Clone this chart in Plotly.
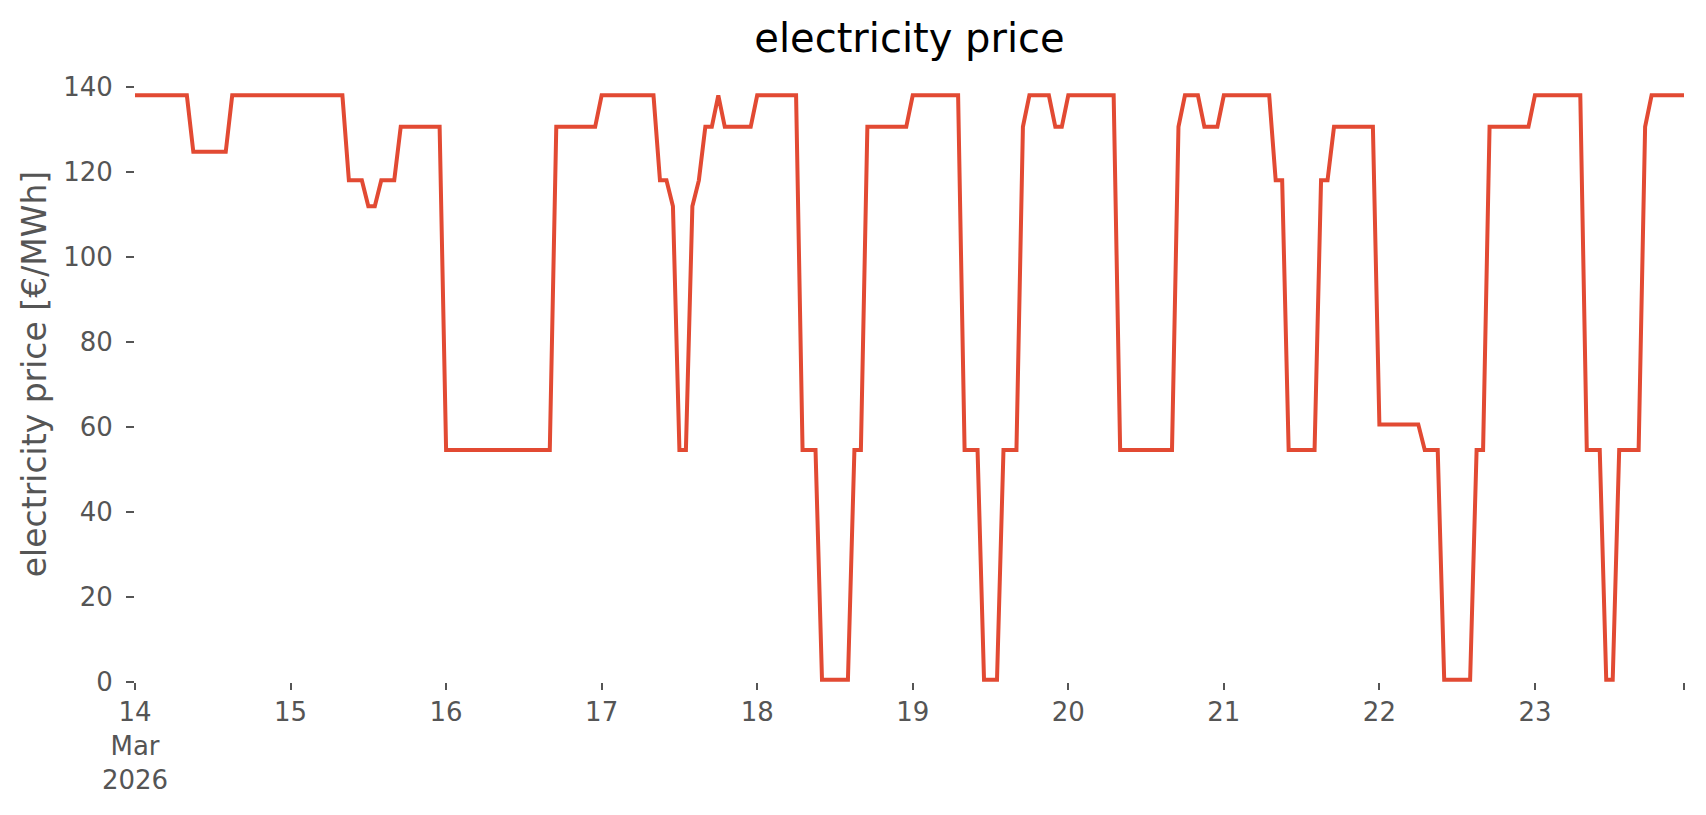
import pandas as pd
import plotly.graph_objects as go

# hourly electricity price [€/MWh], one list per day, 00:00 .. 23:00
MAR_14 = [138.0, 138.0, 138.0, 138.0, 138.0, 138.0, 138.0, 138.0, 138.0, 124.7, 124.7, 124.7,
          124.7, 124.7, 124.7, 138.0, 138.0, 138.0, 138.0, 138.0, 138.0, 138.0, 138.0, 138.0]
MAR_15 = [138.0, 138.0, 138.0, 138.0, 138.0, 138.0, 138.0, 138.0, 138.0, 118.0, 118.0, 118.0,
          111.9, 111.9, 118.0, 118.0, 118.0, 130.6, 130.6, 130.6, 130.6, 130.6, 130.6, 130.6]
MAR_16 = [54.6, 54.6, 54.6, 54.6, 54.6, 54.6, 54.6, 54.6, 54.6, 54.6, 54.6, 54.6,
          54.6, 54.6, 54.6, 54.6, 54.6, 130.6, 130.6, 130.6, 130.6, 130.6, 130.6, 130.6]
MAR_17 = [138.0, 138.0, 138.0, 138.0, 138.0, 138.0, 138.0, 138.0, 138.0, 118.0, 118.0, 111.9,
          54.6, 54.6, 111.9, 118.0, 130.6, 130.6, 138.0, 130.6, 130.6, 130.6, 130.6, 130.6]
MAR_18 = [138.0, 138.0, 138.0, 138.0, 138.0, 138.0, 138.0, 54.6, 54.6, 54.6, 0.5, 0.5,
          0.5, 0.5, 0.5, 54.6, 54.6, 130.6, 130.6, 130.6, 130.6, 130.6, 130.6, 130.6]
MAR_19 = [138.0, 138.0, 138.0, 138.0, 138.0, 138.0, 138.0, 138.0, 54.6, 54.6, 54.6, 0.5,
          0.5, 0.5, 54.6, 54.6, 54.6, 130.6, 138.0, 138.0, 138.0, 138.0, 130.6, 130.6]
MAR_20 = [138.0, 138.0, 138.0, 138.0, 138.0, 138.0, 138.0, 138.0, 54.6, 54.6, 54.6, 54.6,
          54.6, 54.6, 54.6, 54.6, 54.6, 130.6, 138.0, 138.0, 138.0, 130.6, 130.6, 130.6]
MAR_21 = [138.0, 138.0, 138.0, 138.0, 138.0, 138.0, 138.0, 138.0, 118.0, 118.0, 54.6, 54.6,
          54.6, 54.6, 54.6, 118.0, 118.0, 130.6, 130.6, 130.6, 130.6, 130.6, 130.6, 130.6]
MAR_22 = [60.6, 60.6, 60.6, 60.6, 60.6, 60.6, 60.6, 54.6, 54.6, 54.6, 0.5, 0.5,
          0.5, 0.5, 0.5, 54.6, 54.6, 130.6, 130.6, 130.6, 130.6, 130.6, 130.6, 130.6]
MAR_23 = [138.0, 138.0, 138.0, 138.0, 138.0, 138.0, 138.0, 138.0, 54.6, 54.6, 54.6, 0.5,
          0.5, 54.6, 54.6, 54.6, 54.6, 130.6, 138.0, 138.0, 138.0, 138.0, 138.0, 138.0]

DIAS = ["14<br>Mar<br>2026", "15", "16", "17", "18", "19", "20", "21", "22", "23"]
Y_TICKS = [0, 20, 40, 60, 80, 100, 120, 140]

GRIS = "#555555"
ROJO = "#E24A33"

precio = (MAR_14 + MAR_15 + MAR_16 + MAR_17 + MAR_18
          + MAR_19 + MAR_20 + MAR_21 + MAR_22 + MAR_23)
horas = pd.date_range("2026-03-14 00:00", periods=len(precio), freq="h")
dias = pd.date_range("2026-03-14", periods=len(DIAS), freq="D")

fig = go.Figure()
fig.add_trace(go.Scatter(
    x=horas,
    y=precio,
    mode="lines",
    line=dict(color=ROJO, width=4),
    showlegend=False))

# la página tiene 8px de margen en el body, se descuentan aquí
fig.update_layout(
    width=1706,
    height=815,
    paper_bgcolor="white",
    plot_bgcolor="white",
    font=dict(family="DejaVu Sans", color=GRIS, size=26),
    margin=dict(l=127, r=30, t=58, b=141),
    title=dict(
        text="electricity price",
        font=dict(size=40, color="black"),
        x=0.5, xref="paper", xanchor="center",
        y=1 - 30 / 815, yref="container", yanchor="middle"))

fig.update_xaxes(
    range=[horas[0], horas[-1]],
    tickvals=list(dias) + [horas[-1]],
    ticktext=DIAS + [""],
    ticks="outside",
    ticklen=7,
    tickwidth=1.5,
    tickcolor=GRIS,
    showgrid=False,
    zeroline=False,
    showline=False)

fig.update_yaxes(
    range=[0, 144.9],
    tickvals=Y_TICKS,
    ticks="outside",
    ticklen=8,
    tickwidth=1.5,
    tickcolor=GRIS,
    ticklabelstandoff=8,
    showgrid=False,
    zeroline=False,
    showline=False,
    title=dict(text="electricity price [€/MWh]", font=dict(size=33), standoff=6),
    automargin=False)

fig.write_html("out.html")
